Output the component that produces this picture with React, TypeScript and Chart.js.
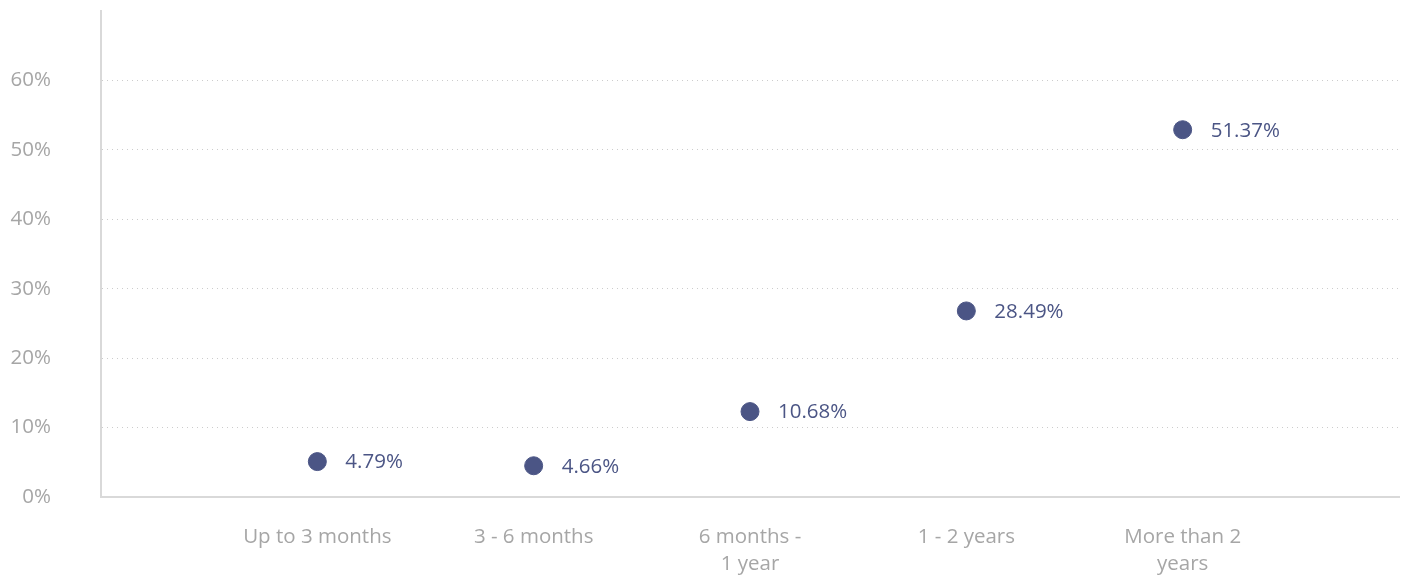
import React, { useEffect, useRef } from "react";
import { Chart, registerables } from "chart.js";

Chart.register(...registerables);

const categories: (string | string[])[] = [
  "Up to 3 months",
  "3 - 6 months",
  ["6 months -", "1 year"],
  "1 - 2 years",
  ["More than 2", "years"],
];
const pointValues = [5.1, 4.5, 12.3, 26.8, 52.9];
const valueLabels = ["4.79%", "4.66%", "10.68%", "28.49%", "51.37%"];
const yTicks = [0, 10, 20, 30, 40, 50, 60];

const FONT = "'Open Sans', sans-serif";
const POINT_COLOR = "#4b5585";
const TICK_COLOR = "#a6a6a6";

const labelPlugin = {
  id: "valueLabels",
  afterDatasetsDraw(chart: any) {
    const ctx = chart.ctx;
    const meta = chart.getDatasetMeta(0);
    ctx.save();
    ctx.font = `20.5px ${FONT}`;
    ctx.fillStyle = POINT_COLOR;
    ctx.textAlign = "left";
    ctx.textBaseline = "middle";
    meta.data.forEach((el: any, i: number) => {
      ctx.fillText(valueLabels[i], el.x + 28, el.y + 1);
    });
    ctx.restore();
  },
};

export default function App() {
  const ref = useRef<HTMLCanvasElement | null>(null);
  useEffect(() => {
    if (!ref.current) return;
    const chart = new Chart(ref.current, {
      type: "scatter",
      data: {
        datasets: [
          {
            data: pointValues.map((v, i) => ({ x: i + 1, y: v })),
            backgroundColor: POINT_COLOR,
            borderColor: POINT_COLOR,
            pointRadius: 9,
            pointHoverRadius: 9,
            showLine: false,
          },
        ],
      },
      options: {
        animation: false,
        responsive: false,
        maintainAspectRatio: false,
        layout: { autoPadding: false, padding: { top: 11, right: 3, left: 0, bottom: 0 } },
        plugins: { legend: { display: false }, tooltip: { enabled: false } },
        scales: {
          x: {
            type: "linear",
            min: 0,
            max: 6,
            afterBuildTicks: (axis: any) => {
              axis.ticks = [0, 1, 2, 3, 4, 5, 6].map((v) => ({ value: v }));
            },
            afterFit: (axis: any) => {
              axis.height = 78;
              axis.paddingLeft = 0;
              axis.paddingRight = 0;
            },
            ticks: {
              autoSkip: false,
              maxRotation: 0,
              padding: 27,
              color: TICK_COLOR,
              font: { family: FONT, size: 20.5, lineHeight: 1.32 },
              callback: (v: any) => {
                const idx = Number(v) - 1;
                return idx >= 0 && idx < categories.length ? (categories[idx] as any) : "";
              },
            },
            grid: { display: false, drawTicks: false },
            border: { display: true, color: "#d9d9d9", width: 2 },
          },
          y: {
            min: 0,
            max: 70,
            afterBuildTicks: (axis: any) => {
              axis.ticks = [...yTicks, 70].map((v) => ({ value: v }));
            },
            afterFit: (axis: any) => {
              axis.width = 101;
              axis.paddingTop = 0;
              axis.paddingBottom = 0;
            },
            ticks: {
              padding: 50,
              color: TICK_COLOR,
              font: { family: FONT, size: 20.5 },
              callback: (v: any) => (yTicks.includes(Number(v)) ? `${v}%` : ""),
            },
            grid: {
              drawTicks: false,
              color: (c: any) =>
                c.tick && c.tick.value > 0 && c.tick.value < 70 ? "#cccccc" : "rgba(0,0,0,0)",
              lineWidth: 1,
            },
            border: { display: true, color: "#d9d9d9", width: 2, dash: [1, 4] },
          },
        },
      },
      plugins: [labelPlugin],
    });
    return () => chart.destroy();
  }, []);
  return (
    <div style={{ position: "fixed", left: 0, top: 0, width: 1402, height: 575, background: "#fff" }}>
      <canvas ref={ref} width={1402} height={575} style={{ width: 1402, height: 575 }} />
    </div>
  );
}
